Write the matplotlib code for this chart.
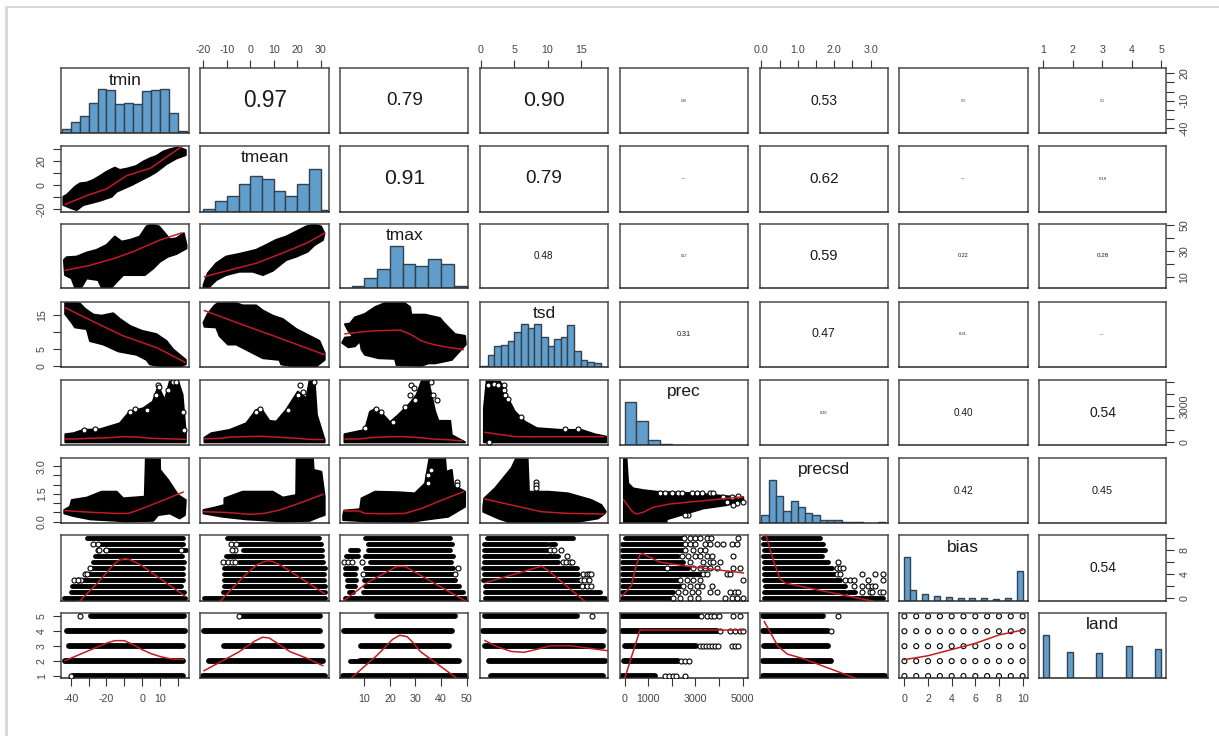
import matplotlib
matplotlib.use('Agg')
import matplotlib.pyplot as plt
from matplotlib.patches import Rectangle

plt.rcParams['font.family'] = ['Liberation Sans', 'DejaVu Sans']

W, H = 1219, 736
names = ['tmin', 'tmean', 'tmax', 'tsd', 'prec', 'precsd', 'bias', 'land']
lims = {
    'tmin': (-45.3, 26.4), 'tmean': (-21.3, 33.7), 'tmax': (0.55, 50.7), 'tsd': (-0.15, 19.05),
    'prec': (-200, 5220), 'precsd': (-0.05, 3.47), 'bias': (-0.5, 10.44), 'land': (0.84, 5.17),
}
ylims = {
    'tmin': (-45.5, 25.5), 'tmean': (-22, 33), 'tmax': (1, 51), 'tsd': (-0.1, 18.9),
    'prec': (-225, 5190), 'precsd': (-0.07, 3.43), 'bias': (-0.5, 10.5), 'land': (0.85, 5.2),
}
col_left = [61.3, 200.3, 340.3, 480, 620, 759.6, 898.5, 1038.6]
col_right = [189.3, 329.3, 468.3, 607.7, 747.7, 887.8, 1027.8, 1166.4]
row_top = [68.3, 145.7, 223.7, 301.7, 380, 458.3, 535.3, 613.3]
row_bot = [133.3, 211.7, 288.3, 366.7, 445, 523, 601, 678.3]

# tick values and labels
x_ticks = {
    'tmin': ([-40, -30, -20, -10, 0, 10, 20], ['-40', '', '-20', '', '0', '10', '']),
    'tmean': ([-20, -10, 0, 10, 20, 30], ['-20', '-10', '0', '10', '20', '30']),
    'tmax': ([10, 20, 30, 40, 50], ['10', '20', '30', '40', '50']),
    'tsd': ([0, 5, 10, 15], ['0', '5', '10', '15']),
    'prec': ([0, 1000, 2000, 3000, 4000, 5000], ['0', '1000', '', '3000', '', '5000']),
    'precsd': ([0, .5, 1, 1.5, 2, 2.5, 3], ['0.0', '', '1.0', '', '2.0', '', '3.0']),
    'bias': ([0, 2, 4, 6, 8, 10], ['0', '2', '4', '6', '8', '10']),
    'land': ([1, 2, 3, 4, 5], ['1', '2', '3', '4', '5']),
}
y_ticks = {
    'tmin': ([-40, -30, -20, -10, 0, 10, 20], ['-40', '', '', '-10', '', '', '20']),
    'tmean': ([-20, -10, 0, 10, 20, 30], ['-20', '', '0', '', '20', '']),
    'tmax': ([10, 20, 30, 40, 50], ['10', '', '30', '', '50']),
    'tsd': ([0, 5, 10, 15], ['0', '5', '', '15']),
    'prec': ([0, 1000, 2000, 3000, 4000, 5000], ['0', '', '', '3000', '', '']),
    'precsd': ([0, .5, 1, 1.5, 2, 2.5, 3], ['0.0', '', '', '1.5', '', '', '3.0']),
    'bias': ([0, 2, 4, 6, 8, 10], ['0', '', '4', '', '8', '']),
    'land': ([1, 2, 3, 4, 5], ['1', '2', '3', '4', '5']),
}

# histograms: bin edges and bar heights (share of panel height)
hist_tmin_l = [-45, -40, -35, -30, -25, -20, -15, -10, -5, 0, 5, 10, 15, 20]
hist_tmin_h = [.06, .18, .26, .46, .68, .66, .45, .47, .45, .65, .67, .68, .31, .03]
hist_tmean_l = [-20, -15, -10, -5, 0, 5, 10, 15, 20, 25, 30]
hist_tmean_h = [.035, .16, .24, .42, .54, .49, .32, .24, .42, .64, .02]
hist_tmax_l = [5, 10, 15, 20, 25, 30, 35, 40, 45]
hist_tmax_h = [.03, .16, .30, .66, .37, .34, .46, .37, .03]
hist_tsd_l = [0, 1, 2, 3, 4, 5, 6, 7, 8, 9, 10, 11, 12, 13, 14, 15, 16, 17]
hist_tsd_h = [.016, .187, .32, .34, .40, .54, .66, .60, .66, .46, .32, .42, .45, .64, .24, .11, .08, .06]
hist_prec_l = [0, 500, 1000, 1500, 2000]
hist_prec_h = [.66, .37, .07, .02, .003]
hist_precsd_l = [0, .2, .4, .6, .8, 1, 1.2, 1.4, 1.6, 1.8, 2, 2.2, 2.4, 2.6, 3.2]
hist_precsd_h = [.12, .67, .42, .19, .34, .24, .15, .12, .05, .04, .04, .02, .02, .01, .01]
hist_bias_l = [0, .5, 1.5, 2.5, 3.5, 4.5, 5.5, 6.5, 7.5, 8.5, 9.5]
hist_bias_h = [.67, .16, .11, .08, .06, .045, .045, .045, .03, .045, .46]
hist_land_l = [1, 1.8, 2.8, 3.8, 4.8]
hist_land_h = [.66, .40, .39, .49, .45]
hist_width = {'tmin': 5, 'tmean': 5, 'tmax': 5, 'tsd': 1, 'prec': 500, 'precsd': .2, 'bias': .5, 'land': .2}
hist_left = dict(tmin=hist_tmin_l, tmean=hist_tmean_l, tmax=hist_tmax_l, tsd=hist_tsd_l, prec=hist_prec_l,
                 precsd=hist_precsd_l, bias=hist_bias_l, land=hist_land_l)
hist_height = dict(tmin=hist_tmin_h, tmean=hist_tmean_h, tmax=hist_tmax_h, tsd=hist_tsd_h, prec=hist_prec_h,
                   precsd=hist_precsd_h, bias=hist_bias_h, land=hist_land_h)

# correlations (row, column): value and text size
corr_text = {
    (0, 1): ('0.97', 16.3), (0, 2): ('0.79', 13.6), (0, 3): ('0.90', 15.4), (0, 4): ('0.18', 2.2),
    (0, 5): ('0.53', 10), (0, 6): ('0.10', 1.8), (0, 7): ('0.11', 1.8),
    (1, 2): ('0.91', 15.2), (1, 3): ('0.79', 13.6), (1, 4): ('0.14', 1.6), (1, 5): ('0.62', 11),
    (1, 6): ('0.14', 1.6), (1, 7): ('0.19', 3),
    (2, 3): ('0.48', 7.2), (2, 4): ('0.17', 2.4), (2, 5): ('0.59', 10.5), (2, 6): ('0.22', 4), (2, 7): ('0.28', 4.5),
    (3, 4): ('0.31', 5.2), (3, 5): ('0.47', 8.8), (3, 6): ('0.21', 3), (3, 7): ('0.14', 1.6),
    (4, 5): ('0.20', 2.8), (4, 6): ('0.40', 7.2), (4, 7): ('0.54', 10),
    (5, 6): ('0.42', 7.2), (5, 7): ('0.45', 7.8),
    (6, 7): ('0.54', 10),
}

# point clouds: outlines, (row, column): x, y
cloud = {}
cloud[1, 0] = ([-44.1, -42.3, -37.6, -34.8, -31.1, -27.4, -23.6, -19.9, -15.3, -12.5, -7.8, -3.2, .6, 4.3, 8, 11.7, 15.5, 20.1, 24.4,
                24.4, 19.2, 13.6, 8, 4.3, -1.3, -5.95, -14.3, -17.1, -23.6, -29.2, -33, -36.7, -39.5, -44.1],
               [-9.5, -8.1, -1.2, 1.6, 2.2, 4.4, 7.7, 11.3, 14.7, 12.7, 14.1, 16.1, 19.7, 22.4, 24.4, 28, 30, 31.6, 29.4,
                25.2, 22.4, 17.7, 11.3, 8, 3.8, .2, -5.3, -9.5, -12.8, -15, -16.4, -20.6, -19.2, -16.4])
cloud[2, 0] = ([-43.8, -42.3, -36.7, -31.1, -25.5, -19.9, -15.3, -11.5, -6.9, -1.3, 2.4, 5.2, 9.5, 12.7, 15.5, 19.2, 23.3, 24.8,
                24.8, 19.2, 14.5, 9.9, 6.2, 1.5, -5, -10.6, -14.3, -17.1, -22.7, -24.6, -31.1, -33.9, -37.6, -39.5, -43.2],
               [22.9, 25, 25.5, 28.6, 30.7, 34.5, 41, 37.1, 38.4, 41, 48.8, 50.6, 48.8, 43.6, 38.9, 39.7, 43.6, 34.5,
                31.9, 27.6, 25.5, 21.6, 16.4, 11.3, 11.3, 11.3, 6.1, 1.7, 1.7, 7.4, 8.7, 2.2, 1.7, 8.7, 11.3])
cloud[2, 1] = ([-19.9, -18.1, -14.5, -10.3, -4.6, 2.5, 6.8, 11, 15.3, 19.6, 23.8, 27.4, 30.2, 31.6,
                31, 27.4, 24.5, 19.6, 15.3, 9.6, 5.4, 1.1, -4.6, -10.3, -14.5, -17.4, -19.9],
               [3.5, 12.6, 20.3, 25.5, 27.6, 30.7, 34.5, 38.4, 41, 44.9, 48.8, 50.6, 48.8, 43.6,
                38.4, 34.5, 29.4, 25.5, 22.9, 14.6, 11.3, 13.9, 13.9, 11.3, 7.4, 2.2, 1.7])
cloud[3, 0] = ([-43.1, -38.5, -34.8, -32, -27.3, -22.7, -16.2, -12.4, -6.8, -.3, 8, 13.6, 17.4, 24.4,
                24.4, 21.1, 10.9, 4.3, 2.5, -3.1, -13.4, -21.7, -29.2, -31, -37.6, -39.4, -43.1],
               [18.8, 18.8, 18.3, 16.8, 15.1, 14.8, 15.5, 13.8, 11.8, 10.4, 9.4, 7.4, 4.9, 1.9,
                .6, 0, 0, .6, 1.9, 3.4, 4.4, 6.4, 7.4, 10.9, 11.4, 12.8, 15.3])
cloud[3, 1] = ([-19.9, -18.1, -15.2, -12.4, -7.4, -3.2, 2.5, 5.4, 9.6, 13.9, 19.6, 25.3, 29.5, 31.7,
                31.7, 28.1, 18.2, 13.2, 12.5, 5.4, -.3, -6, -9.5, -13.1, -14.5, -19.5],
               [12.8, 15.3, 17.8, 19.1, 18.8, 17.8, 17.8, 16.3, 14.8, 13.8, 10.9, 8.9, 7.4, 3.9,
                1.9, 0, 0, .6, 1.9, 2.4, 4.4, 6.4, 6.4, 8.9, 11.4, 11.6])
cloud[3, 2] = ([2.4, 4.35, 6.3, 10.2, 14.2, 20, 24.6, 27.9, 28.3, 33.8, 39.6, 41, 45.5, 49.4,
                49.7, 44.2, 37.7, 35.1, 32.4, 22.6, 22, 15.5, 10.2, 8.9, 8.3, 6.3, 3.7, 1.3, 2.4, 5.7, 3.7],
               [12.3, 12.5, 14.3, 15.3, 17.3, 19.1, 19.1, 17.3, 15.1, 15.1, 14.1, 12.8, 9.4, 8.9,
                6.4, 1.9, .9, .9, .2, .4, 2.2, 2.4, 3.4, 4.9, 7.4, 5.9, 5.6, 6.9, 8.4, 8.6, 10.4])
cloud[4, 0] = ([-43, -38.5, -33, -23.6, -12.5, -7, 0.6, 6, 9, 12.7, 15.5, 20, 22.6, 24.4, 24.4, -43],
               [670, 750, 1025, 1080, 1580, 2550, 2830, 3390, 4640, 3500, 5080, 5130, 3970, 750, 0, 0])
cloud[4, 1] = ([-19.5, -16.6, -8.8, -1.7, 2.6, 4.7, 8.2, 11.1, 15.3, 20.3, 23.9, 25.3, 27.4, 28.4, 31.7, 31.7, -19.5],
               [385, 750, 1025, 1580, 2690, 2775, 1780, 1720, 2690, 4220, 3640, 5130, 5130, 2275, 190, 0, 0])
cloud[4, 2] = ([2.2, 10.2, 12.2, 14.8, 18, 20, 23.3, 27.9, 30.5, 32.5, 35, 37.7, 39, 43.6, 44.2, 49.4, 2.2],
               [667, 1025, 2550, 2830, 2140, 1670, 2275, 3250, 3970, 5130, 5130, 2550, 1780, 1780, 600, 0, 0])
cloud[4, 3] = ([0.45, 0.85, 2.9, 3.9, 5.1, 6.6, 8.4, 12.1, 15.1, 17.1, 18.8, 18.8, 0.45],
               [2830, 5080, 5030, 3800, 2550, 1720, 1170, 1025, 1025, 667, 470, 0, 0])
cloud[5, 0] = ([-43.6, -40.4, -39.4, -31, -22.7, -14.3, -10.6, 1.5, 2.1, 9.9, 10, 14.5, 20.1, 24.4, 23.9, 21, 15.5, 8.9, 6.2, -8.8, -29, -38.5, -43.6],
               [.63, .81, 1.17, 1.3, 1.62, 1.62, 1.26, 1.35, 3.43, 3.43, 2.8, 2.26, 1.44, 1.17, .36, .18, .45, .36, .05, .02, .13, .31, .45])
cloud[5, 1] = ([-19.9, -14.5, -11, -11, -3.2, 9.6, 13.9, 19.6, 19.8, 26.7, 27, 30.3, 31.7, 31.7, 29.5, 25.3, 13.9, -1.7, -11.7, -19.9],
               [.63, .78, .9, 1.26, 1.62, 1.62, 1.3, 1.44, 3.43, 3.43, 2.8, 2.7, 1.35, .36, .27, .05, .02, .13, .27, .45])
cloud[5, 2] = ([1.7, 2.1, 8.3, 8.9, 14.2, 23.3, 29.8, 33.8, 35.5, 41.6, 42, 44.2, 44.9, 49.4, 49.4, 42.8, 35, 28.5, 11.5, 1.7],
               [.36, .6, .67, 1.26, 1.62, 1.59, 1.53, 2.07, 3.43, 3.43, 2.7, 2.8, 1.98, 1.62, .81, .27, .13, 0, .02, .09])
cloud[5, 3] = ([.35, .5, 2.1, 4.6, 5.3, 7, 7.2, 10.1, 13.1, 16.6, 18.1, 18.75, 18.5, 17.6, 14.6, 4.1, 2.6, .35],
               [.81, 1.26, 1.8, 2.9, 3.43, 3.43, 1.62, 1.62, 1.53, 1.17, .9, .54, .42, .18, 0, 0, .18, .54])
cloud[5, 4] = ([-30, 76, 110, 145, 357, 800, 1353, 3055, 3762, 5030, 5030, 4332, 3336, 2630, 1778, 1778, -30],
               [3.43, 3.43, 2.7, 2.07, 1.8, 1.7, 1.62, 1.53, 1.44, 1.3, 1.15, .9, .72, .45, .13, 0, 0])

# open circles standing clear of the clouds: (row, column): x, y
loose = {}
loose[4, 0] = ([-4, -6.9, 2.5, 8.9, 9.5, 8, 14.6, 17.3, 19.1, 23, 23.3, -32.7, -26.2],
               [2775, 2500, 2690, 4775, 4580, 3970, 4360, 5000, 5000, 2550, 1025, 1025, 1080])
loose[4, 1] = ([2.6, 4.3, 21, 22.4, 20.3, 16, 27.3], [2550, 2775, 4775, 4220, 3970, 2690, 5000])
loose[4, 2] = ([28.3, 29.5, 36, 27.9, 30, 37, 38.3, 26, 14.5, 16.5, 21.2, 10.2],
               [4775, 4550, 5000, 3970, 3500, 3970, 3500, 2970, 2775, 2500, 1720, 1170])
loose[4, 3] = ([1.1, 1.9, 2.6, 3.4, 3.5, 3.6, 4.1, 12.6, 14.6, 6, 1.2],
               [4775, 4830, 4775, 4775, 4360, 3970, 3640, 1080, 1080, 2140, 50])
loose[5, 2] = ([34.8, 34.8, 36, 46.2, 46.2], [2.52, 2.07, 2.8, 2.15, 1.97])
loose[5, 3] = ([8.27, 8.27, 8.27], [2.16, 1.98, 1.8])
loose[5, 4] = ([1494, 1706, 1990, 2274, 2416, 2841, 3054, 3267, 3621, 3763, 4189, 4543, 4826, 5040, 4756, 4615, 4330, 2700, 2558],
               [1.53, 1.53, 1.53, 1.53, 1.56, 1.53, 1.53, 1.53, 1.53, 1.53, 1.35, 1.35, 1.39, 1.08, .99, .9, 1.08, .36, .36])

# bands of points on discrete levels
bias_levels = [10, 9, 8, 7, 6, 5, 4, 3, 2, 1, 0]
land_levels = [5, 4, 3, 2, 1]
bands = {}
bands[6, 0] = ([-30.7, -23.6, -20.8, -26.4, -27.4, -29.2, -32, -37.6, -39.4, -40, -43.6],
               [22.9, 22.9, 24.4, 22.5, 23.2, 22.9, 22.9, 22.9, 22, 23.2, 23.9])
bands[6, 1] = ([-9.8, -4.9, -3.1, -10.2, -4.6, -11, -11.2, -11.2, -11, -11.5, -19.9],
               [29.5, 30, 30.4, 30.7, 31.1, 31.7, 31.4, 31.5, 31.7, 31.7, 31.7])
bands[6, 2] = ([10.2, 11.5, 11.3, 10.2, 12.2, 10.2, 10, 10, 10.2, 9.5, 2.4],
               [43.6, 44.2, 43.6, 44.8, 44, 44.9, 45.5, 45.5, 47.1, 48.8, 49.4])
bands[6, 3] = ([.86, .5, .5, .5, .45, .35, .5, .35, .6, .6, .6],
               [13.9, 9.9, 10.1, 11.6, 11.6, 14.4, 14.6, 14.9, 15.5, 17.9, 18.6])
bands[6, 4] = ([4, -95, -95, -95, -95, -95, -95, -95, -95, -95, -95],
               [2417, 2417, 2417, 2273, 2486, 2698, 3195, 2273, 2344, 2060, 1919])
bands[6, 5] = ([.03, .05, .07, .05, .07, .08, .08, .07, .1, .07, .07],
               [1.61, 1.7, 1.75, 1.66, 1.84, 1.93, 1.98, 2.16, 2.3, 2.3, 3.35])
bands[7, 0] = ([-28.9, -42.1, -41, -43.2, -38.9], [23.5, 24.1, 22.6, 22.6, 23])
bands[7, 1] = ([-3.4, -19.7, -11.2, -17.7, -20], [29.8, 29.8, 30.6, 31.2, 31.7])
bands[7, 2] = ([15.1, 2, 8.8, 8.1, 1.8], [45.5, 44.5, 43.3, 47, 49.8])
bands[7, 3] = ([.6, .25, .65, 1.16, 1.56], [14.5, 18.5, 18.4, 18.7, 18.4])
bands[7, 4] = ([-116, -116, -2, -51, -116], [3138, 3900, 3008, 2275, 1299])
bands[7, 5] = ([.03, .03, .06, .05, .03], [1.68, 1.83, 1.83, 1.9, 3.39])

# short side clumps on a level: (row, column): level, from, to
clumps = {
    (6, 2): ([8, 7, 5, 4, 3, 2, 1], [4.4, 2.8, 2.4, 2.4, 3.2, 3.2, 4], [7.4, 7.4, 6.6, 6.4, 6.6, 6.4, 5.5]),
    (6, 3): ([9], [10.4], [11.1]),
    (6, 5): ([1], [2.39], [2.57]),
    (7, 2): ([2], [4.4], [7.3]),
}
band_loose = {}
band_loose[6, 0] = ([-27.5, -25, -25, -24, -20, 22, -35.7, -34, -32, -31, -29, -38, -36],
                    [9, 9, 8, 8, 8, 8, 3, 3, 4, 4, 5, 3, 3])
band_loose[6, 1] = ([-8, -6, -6.7, -7.7, -11.7, -9.5, -7.7, -6.7],
                    [9, 9, 8, 8, 6, 6, 6, 6])
band_loose[6, 2] = ([2.1, 3.7, 5, 9, 9.5, 45.5, 46.5],
                    [6, 6, 6, 6, 4, 4, 5])
band_loose[6, 3] = ([10.4, 11, 12, 13, 12.4, 12.8, 13.4, 13.7, 15.3, 15.9, 16.2, 16.6, 15, 15.5, 16.2, 15.2, 16, 16.6],
                    [8, 8, 8, 7, 6, 6, 6, 6, 4, 4, 4, 4, 3, 3, 3, 2, 2, 2])
band_loose[6, 4] = ([2514, 2769, 2982, 3195, 3478, 3648, 4825,
                     2556, 2769, 2982, 3407, 3620, 3904, 4187, 4542, 4754,
                     2556, 2911, 3195, 3407,
                     2415, 2698, 2982, 3195, 3478, 3691, 4613,
                     2769, 3336, 3620, 3763, 4045,
                     1777, 2911, 3195, 3407, 3620, 3904, 4613, 4896,
                     3336, 3478, 4329, 4471,
                     2344, 2627, 2911, 3195, 5038,
                     2486, 2769, 3053, 3266, 3691,
                     2273, 2556, 2840, 3124, 3620, 3904, 4471, 4684, 4825,
                     2060, 2344, 2769, 3124, 4258, 4542, 4754, 5038],
                    [10] * 7 + [9] * 9 + [8] * 4 + [7] * 7 + [6] * 5 + [5] * 8 + [4] * 4 + [3] * 5 + [2] * 5 + [1] * 9 + [0] * 8)
band_loose[6, 5] = ([2.11, 2.07, 2.16, 2.25, 2.07, 2.16, 2.77, 3.12, 3.35, 2.3, 2.44, 2.53, 2.94, 3.35, 2.53, 2.76, 2.94, 3.03, 3.12, 2.76, 2.98, 3.03, 3.26, 3.35],
                    [6, 5, 5, 5, 4, 4, 4, 4, 4, 3, 3, 3, 3, 3, 2, 2, 2, 2, 2, 1, 1, 1, 1, 1])
band_loose[7, 0] = ([-35, -40], [5, 1])
band_loose[7, 1] = ([-5], [5])
band_loose[7, 3] = ([16.7], [5])
band_loose[7, 4] = ([3252, 3496, 3658, 3788, 4016, 4602, 4911, 4065, 4472, 4667, 4879, 5041,
                     3203, 3333, 3463, 3577, 3691, 3821, 3951, 4553, 4667, 4797, 2389, 2552, 2731, 1706, 1869, 2031, 2194, 2552],
                    [5] * 7 + [4] * 5 + [3] * 10 + [2] * 3 + [1] * 5)
band_loose[7, 5] = ([2.11, 1.9], [5, 4])
bias_grid_x = [0, 1, 2, 3, 4, 5, 6, 7, 8, 9, 10]

# red smoothers: (row, column): x, y
smooth = {}
smooth[1, 0] = ([-43, -30, -20, -8.7, 5, 14, 22], [-15.8, -8, -3, 8, 14.5, 24, 32])
smooth[2, 0] = ([-43, -30, -16, -5, 10, 22], [15, 18.5, 24, 29.4, 38.4, 43.8])
smooth[2, 1] = ([-19.5, -8, 2.6, 15.3, 24, 31.7], [10, 15.5, 20.4, 29.4, 36, 43.6])
smooth[3, 0] = ([-43, -27, -10.6, 8, 24], [17.1, 13, 8.9, 5.5, 1.2])
smooth[3, 1] = ([-19.5, -5, 10, 31.7], [16.3, 12.6, 8.9, 3.4])
smooth[3, 2] = ([2.4, 8, 14.2, 24, 28, 32.5, 37, 41.6, 48.7], [9.5, 10, 10.4, 10.6, 9.4, 7.4, 6.4, 5.7, 4.9])
smooth[4, 0] = ([-43, -36, -30, -20, -10, -2, 5, 15, 24], [275, 280, 330, 370, 470, 430, 330, 290, 250])
smooth[4, 1] = ([-19.5, -14, -8, 0, 5, 12, 20, 26, 31], [300, 310, 440, 480, 500, 420, 330, 240, 230])
smooth[4, 2] = ([2.5, 8, 13, 20, 25, 31, 37, 43, 48], [270, 280, 400, 460, 470, 400, 270, 210, 120])
smooth[4, 3] = ([0.6, 2.5, 5.1, 8, 18.4], [830, 680, 470, 460, 470])
smooth[5, 0] = ([-43.2, -35, -27, -15, -7.8, -3.1, 5, 14, 22.9], [.6, .55, .5, .45, .45, .6, .9, 1.25, 1.6])
smooth[5, 1] = ([-19.9, -10, -0.3, 6, 12.5, 22, 31], [.54, .5, .4, .45, .63, 1.05, 1.48])
smooth[5, 2] = ([2.1, 8, 10.2, 18, 25.9, 32.5, 40, 48.8], [.58, .58, .45, .43, .45, .72, 1.15, 1.62])
smooth[5, 3] = ([.63, 4, 9.1, 13.1, 18.4], [1.22, .95, .54, .45, .42])
smooth[5, 4] = ([-38, 120, 289, 400, 528, 800, 1208, 1919, 3621, 5030], [1.17, .9, .6, .48, .42, .52, .78, .96, 1.17, 1.35])
smooth[6, 0] = ([-35.2, -24.6, -15, -12.5, -9.5, -6.9, -0.3, 23.9], [-.6, 2.67, 5.9, 6.4, 6.55, 6.44, 5.44, .33])
smooth[6, 1] = ([-13, -1.7, 3, 5.4, 7.5, 9.6, 13.9, 31.7], [-.6, 4.06, 5.6, 6, 6.25, 6.1, 5.28, .72])
smooth[6, 2] = ([2.1, 11.5, 22.7, 25.9, 49.2], [-.4, 2.67, 5.28, 5.28, -.4])
smooth[6, 3] = ([.63, 9.1, 10.1, 15.6], [2.56, 5.33, 4.6, -.55])
smooth[6, 4] = ([-95, 288, 430, 642, 784, 1493, 2911, 5038], [.39, 2.1, 4.6, 7.3, 7.4, 6, 5.2, 4.2])
smooth[6, 5] = ([.13, .33, .51, .65, 1.52, 3.08], [10.4, 6.3, 3.2, 2.5, 1.39, -.55])
smooth[7, 0] = ([-43.2, -30, -20, -15.4, -10, -5, -0.4, 5, 10.2, 16, 23], [2.03, 2.7, 3.2, 3.37, 3.37, 3.1, 2.79, 2.5, 2.3, 2.15, 2.1])
smooth[7, 1] = ([-19.7, -5, 2, 5.3, 8, 10.5, 17, 24, 30.9], [1.36, 2.6, 3.35, 3.6, 3.55, 3.3, 2.63, 2.2, 1.7])
smooth[7, 2] = ([4.7, 15, 21, 23.8, 26.7, 29, 32, 46.3], [.84, 2.4, 3.45, 3.73, 3.64, 3.25, 2.63, .84])
smooth[7, 3] = ([.6, 2.4, 4.5, 6.45, 8.5, 10.5, 13.4, 17.4, 19], [3.37, 2.97, 2.65, 2.59, 2.8, 3.03, 3.03, 2.79, 2.7])
smooth[7, 4] = ([-2, 648, 5041], [.84, 4.08, 4.08])
smooth[7, 5] = ([.08, .45, .71, 1.13, 2.6], [4.64, 3.01, 2.47, 2.18, .84])
smooth[7, 6] = ([0, 2, 6, 8, 10], [2.1, 2.36, 3.19, 3.75, 4.08])

FRAME = '#4a4a4a'
TICK = '#333333'
LABEL = '#444444'
BAR = '#619ecb'
BAR_EDGE = '#34424f'
RED = '#bf1d22'
CIRCLE_S = 13

fig = plt.figure(figsize=(W / 100, H / 100), dpi=100, facecolor='white')

# light page frame (left edge and top edge only)
for (x0, y0, x1, y1) in [(5, 6, 7.5, 736), (5, 6, 1219, 8)]:
    fig.add_artist(Rectangle((x0 / W, 1 - y1 / H), (x1 - x0) / W, (y1 - y0) / H,
                             transform=fig.transFigure, facecolor='#d9d9d9', edgecolor='none'))

for r, rn in enumerate(names):
    for c, cn in enumerate(names):
        ax = fig.add_axes([col_left[c] / W, 1 - row_bot[r] / H,
                           (col_right[c] - col_left[c]) / W, (row_bot[r] - row_top[r]) / H])
        ax.set_xlim(*lims[cn])
        ax.set_ylim(*ylims[rn])
        for side, sp in ax.spines.items():
            sp.set_color(FRAME if side != 'bottom' else '#2a2a2a')
            sp.set_linewidth(1.1)
        ax.tick_params(length=0, labelbottom=False, labelleft=False)
        ax.set_xticks([])
        ax.set_yticks([])

        if r == c:
            ax.set_ylim(0, 1)
            ax.bar(hist_left[cn], hist_height[cn], width=hist_width[cn], align='edge',
                   color=BAR, edgecolor=BAR_EDGE, linewidth=1.0)
            ax.text(0.5, 0.82, cn, transform=ax.transAxes, ha='center', va='center',
                    fontsize=12.5, color='#1a1a1a')
        elif c > r:
            txt, size = corr_text[(r, c)]
            ax.text(0.5, 0.5, txt, transform=ax.transAxes, ha='center', va='center',
                    fontsize=size, color='#1a1a1a')
        else:
            key = (r, c)
            if key in cloud:
                xs, ys = cloud[key]
                ax.fill(xs, ys, facecolor='black', edgecolor='black', linewidth=1.5, joinstyle='round')
            if key in bands:
                levels = bias_levels if r == 6 else land_levels
                lo, hi = bands[key]
                lw = 3.5 if r == 6 else 4.2
                for lev, a, b in zip(levels, lo, hi):
                    ax.plot([a, b], [lev, lev], color='black', lw=lw, solid_capstyle='round')
            if key in clumps:
                lev, a, b = clumps[key]
                for l_, a_, b_ in zip(lev, a, b):
                    ax.plot([a_, b_], [l_, l_], color='black', lw=3.5, solid_capstyle='round')
            if key == (7, 6):
                for lev in land_levels:
                    ax.scatter(bias_grid_x, [lev] * len(bias_grid_x), s=CIRCLE_S,
                               facecolors='none', edgecolors='black', linewidths=0.8)
            for store in (loose, band_loose):
                if key in store:
                    xs, ys = store[key]
                    ax.scatter(xs, ys, s=CIRCLE_S, facecolors='white', edgecolors='black',
                               linewidths=0.8, zorder=3)
            xs, ys = smooth[key]
            ax.plot(xs, ys, color=RED, lw=1.1, zorder=5)

        # outer axes, alternating as in a scatterplot matrix
        tick_kw = dict(length=5.8, width=0.8, color=TICK, labelcolor=LABEL, labelsize=7.7)
        if r == 0 and c % 2 == 1:
            ax.xaxis.tick_top()
            ax.set_xticks(x_ticks[cn][0], x_ticks[cn][1])
            ax.tick_params(axis='x', top=True, labeltop=True, bottom=False, labelbottom=False, pad=3.5, **tick_kw)
        if r == 7 and c % 2 == 0:
            ax.set_xticks(x_ticks[cn][0], x_ticks[cn][1])
            ax.tick_params(axis='x', bottom=True, labelbottom=True, pad=5.7, **tick_kw)
        if c == 0 and r % 2 == 1:
            ax.set_yticks(y_ticks[rn][0], y_ticks[rn][1], rotation=90, va='center')
            ax.tick_params(axis='y', left=True, labelleft=True, pad=4.5, **tick_kw)
        if c == 7 and r % 2 == 0:
            ax.yaxis.tick_right()
            ax.set_yticks(y_ticks[rn][0], y_ticks[rn][1], rotation=90, va='center')
            ax.tick_params(axis='y', right=True, labelright=True, left=False, labelleft=False, pad=3.5, **tick_kw)

fig.savefig('out.png', dpi=100)
